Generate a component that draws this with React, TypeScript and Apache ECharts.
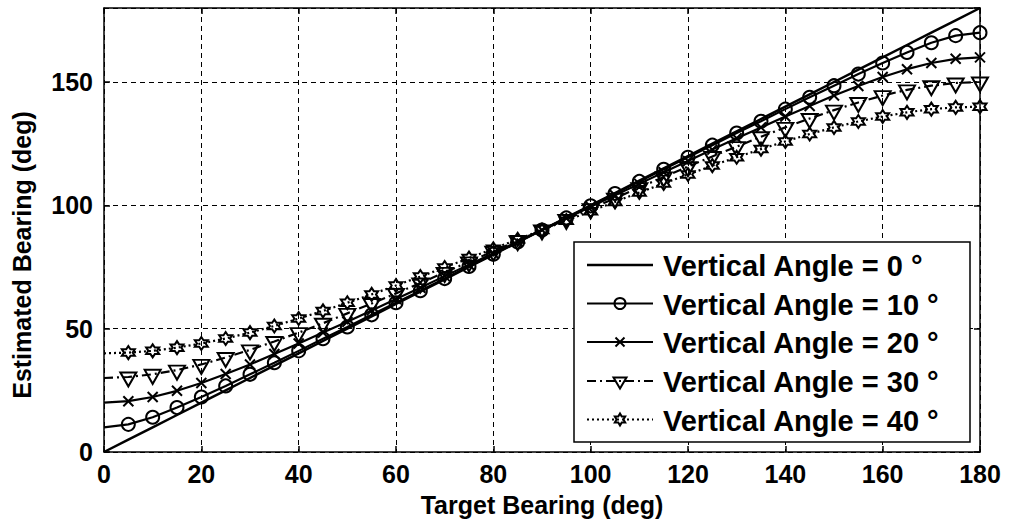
import React, { useEffect, useRef } from "react";
import * as echarts from "echarts";

// Target bearing (deg) at which each curve is sampled
const bearings = [
  0, 5, 10, 15, 20, 25, 30, 35, 40, 45, 50, 55, 60, 65, 70, 75, 80, 85, 90,
  95, 100, 105, 110, 115, 120, 125, 130, 135, 140, 145, 150, 155, 160, 165, 170, 175, 180,
];

// Estimated bearing (deg) for each vertical angle
const est0 = [
  0, 5, 10, 15, 20, 25, 30, 35, 40, 45, 50, 55, 60, 65, 70, 75, 80, 85, 90,
  95, 100, 105, 110, 115, 120, 125, 130, 135, 140, 145, 150, 155, 160, 165, 170, 175, 180,
];
const est10 = [
  10.0, 11.2, 14.1, 18.0, 22.3, 26.8, 31.5, 36.2, 41.0, 45.9, 50.7, 55.6, 60.5, 65.4, 70.3, 75.2, 80.2, 85.1, 90.0,
  94.9, 99.8, 104.8, 109.7, 114.6, 119.5, 124.4, 129.3, 134.1, 139.0, 143.8, 148.5, 153.2, 157.7, 162.0, 165.9, 168.8, 170.0,
];
const est20 = [
  20.0, 20.6, 22.3, 24.8, 28.0, 31.6, 35.5, 39.7, 44.0, 48.4, 52.8, 57.4, 62.0, 66.6, 71.3, 75.9, 80.6, 85.3, 90.0,
  94.7, 99.4, 104.1, 108.7, 113.4, 118.0, 122.6, 127.2, 131.6, 136.0, 140.3, 144.5, 148.4, 152.0, 155.2, 157.7, 159.4, 160.0,
];
const est30 = [
  30.0, 30.4, 31.5, 33.2, 35.5, 38.3, 41.4, 44.8, 48.4, 52.2, 56.2, 60.2, 64.3, 68.5, 72.8, 77.1, 81.4, 85.7, 90.0,
  94.3, 98.6, 102.9, 107.2, 111.5, 115.7, 119.8, 123.8, 127.8, 131.6, 135.2, 138.6, 141.7, 144.5, 146.8, 148.5, 149.6, 150.0,
];
const est40 = [
  40.0, 40.3, 41.0, 42.3, 44.0, 46.0, 48.4, 51.1, 54.1, 57.2, 60.5, 63.9, 67.5, 71.1, 74.8, 78.6, 82.4, 86.2, 90.0,
  93.8, 97.6, 101.4, 105.2, 108.9, 112.5, 116.1, 119.5, 122.8, 125.9, 128.9, 131.6, 134.0, 136.0, 137.7, 139.0, 139.7, 140.0,
];

const seriesNames = [
  "Vertical Angle = 0 °",
  "Vertical Angle = 10 °",
  "Vertical Angle = 20 °",
  "Vertical Angle = 30 °",
  "Vertical Angle = 40 °",
];

const xTitle = "Target Bearing (deg)";
const yTitle = "Estimated Bearing (deg)";

const FONT = "'Liberation Sans', Arial, sans-serif";

const CROSS = "path://M0,0L10,10M10,0L0,10";
const TRI_DOWN = "path://M0,0L12,0L6,10.4Z";
// six-pointed star outline (20 x 20 box)
const HEX_PTS = [
  [10, 0], [12.89, 5], [18.66, 5], [15.77, 10], [18.66, 15], [12.89, 15],
  [10, 20], [7.11, 15], [1.34, 15], [4.23, 10], [1.34, 5], [7.11, 5],
];
const HEXAGRAM = "path://M" + HEX_PTS.map((p) => p.join(",")).join("L") + "Z";

const DASH_DOT = [9, 4, 2, 4];
const DOTTED = [2, 3];

function pairs(ys: number[]) {
  // the curve starts on the axis; markers begin at the first 5 deg step
  return bearings.map((x, i) =>
    i === 0 ? { value: [x, ys[i]], symbol: "none" } : [x, ys[i]]
  );
}

export default function App() {
  const ref = useRef<HTMLDivElement>(null);

  useEffect(() => {
    if (!ref.current) return;
    const chart = echarts.init(ref.current, undefined, { renderer: "svg" });

    const markerStyle = {
      color: "rgba(0,0,0,0)",
      borderColor: "#000",
      borderWidth: 2,
    };

    const lineSeries = (
      name: string,
      ys: number[],
      symbol: string,
      symbolSize: number | number[],
      dash: any,
      symbolOffset: number[] = [0, 0]
    ) => ({
      type: "line",
      name,
      data: pairs(ys),
      symbol,
      symbolSize,
      symbolOffset,
      showSymbol: true,
      showAllSymbol: true,
      clip: false,
      lineStyle: { color: "#000", width: 2.2, type: dash },
      itemStyle: markerStyle,
      emphasis: { disabled: true },
    });

    // legend rows
    const rowY = [265, 303.5, 342, 381, 419.5];
    const lx0 = 587;
    const lx1 = 653;
    const mx = 620;
    const dashes: any[] = [null, null, null, DASH_DOT, DOTTED];
    const legendEls: any[] = [
      {
        type: "rect",
        shape: { x: 574, y: 242, width: 396, height: 200 },
        style: { fill: "#fff", stroke: "#000", lineWidth: 1.5 },
        z: 100,
      },
    ];
    rowY.forEach((y, i) => {
      legendEls.push({
        type: "line",
        shape: { x1: lx0, y1: y, x2: lx1, y2: y },
        style: { stroke: "#000", lineWidth: i === 0 ? 2.5 : 2.2, lineDash: dashes[i] || null },
        z: 101,
      });
      const ms = { fill: "none", stroke: "#000", lineWidth: 2 };
      if (i === 1) {
        legendEls.push({ type: "circle", shape: { cx: mx, cy: y, r: 5.5 }, style: ms, z: 102 });
      } else if (i === 2) {
        legendEls.push({ type: "line", shape: { x1: mx - 4.5, y1: y - 4.5, x2: mx + 4.5, y2: y + 4.5 }, style: ms, z: 102 });
        legendEls.push({ type: "line", shape: { x1: mx + 4.5, y1: y - 4.5, x2: mx - 4.5, y2: y + 4.5 }, style: ms, z: 102 });
      } else if (i === 3) {
        legendEls.push({
          type: "polygon",
          shape: { points: [[mx - 6.5, y - 3.5], [mx + 6.5, y - 3.5], [mx, y + 7.5]] },
          style: ms,
          z: 102,
        });
      } else if (i === 4) {
        legendEls.push({
          type: "polygon",
          shape: { points: HEX_PTS.map((p) => [mx + (p[0] - 10) * 0.6, y + (p[1] - 10) * 0.6]) },
          style: ms,
          z: 102,
        });
      }
      legendEls.push({
        type: "text",
        x: 663,
        y: y + 1,
        style: {
          text: seriesNames[i],
          fill: "#000",
          fontSize: 29,
          fontWeight: "bold",
          fontFamily: FONT,
          align: "left",
          verticalAlign: "middle",
        },
        z: 102,
      });
    });

    const axisCommon = {
      type: "value",
      min: 0,
      max: 180,
      axisLine: { show: true, onZero: false, lineStyle: { color: "#000", width: 1.5 } },
      axisTick: { show: true, inside: true, length: 6, lineStyle: { color: "#000", width: 1.5 } },
    };
    const labelStyle = {
      color: "#000",
      fontSize: 25,
      fontWeight: "bold",
      fontFamily: FONT,
    };
    const gridLine = { show: true, lineStyle: { color: "#000", type: [5, 4], width: 1 } };

    chart.setOption({
      animation: false,
      backgroundColor: "#fff",
      grid: { left: 104, right: 30, top: 8, bottom: 71, containLabel: false },
      xAxis: [
        {
          ...axisCommon,
          interval: 20,
          position: "bottom",
          axisLabel: { ...labelStyle, margin: 9 },
          splitLine: gridLine,
          name: xTitle,
          nameLocation: "middle",
          nameGap: 40,
          nameTextStyle: { ...labelStyle, fontSize: 25 },
        },
        {
          ...axisCommon,
          interval: 20,
          position: "top",
          axisLabel: { show: false },
          splitLine: { show: false },
        },
      ],
      yAxis: [
        {
          ...axisCommon,
          interval: 50,
          position: "left",
          axisLabel: {
            ...labelStyle,
            margin: 11,
            showMaxLabel: false,
            formatter: (v: number) => (v % 50 === 0 ? String(v) : ""),
          },
          splitLine: gridLine,
        },
        {
          ...axisCommon,
          interval: 50,
          position: "right",
          axisLabel: { show: false },
          splitLine: { show: false },
        },
      ],
      series: [
        {
          type: "line",
          name: seriesNames[0],
          data: bearings.map((x, i) => [x, est0[i]]),
          symbol: "none",
          clip: false,
          lineStyle: { color: "#000", width: 2.5 },
          emphasis: { disabled: true },
        },
        lineSeries(seriesNames[1], est10, "circle", 13, "solid"),
        lineSeries(seriesNames[2], est20, CROSS, 10, "solid"),
        lineSeries(seriesNames[3], est30, TRI_DOWN, [16, 14], DASH_DOT, [0, 2.5]),
        lineSeries(seriesNames[4], est40, HEXAGRAM, 13, DOTTED),
      ],
      graphic: [
        {
          type: "text",
          x: 22,
          y: 255,
          rotation: Math.PI / 2,
          style: {
            text: yTitle,
            fill: "#000",
            fontSize: 25,
            fontWeight: "bold",
            fontFamily: FONT,
            align: "center",
            verticalAlign: "middle",
          },
        },
        ...legendEls,
      ],
    });

    return () => chart.dispose();
  }, []);

  return (
    <div
      ref={ref}
      style={{ position: "fixed", left: 0, top: 0, width: 1010, height: 523, background: "#fff" }}
    />
  );
}
